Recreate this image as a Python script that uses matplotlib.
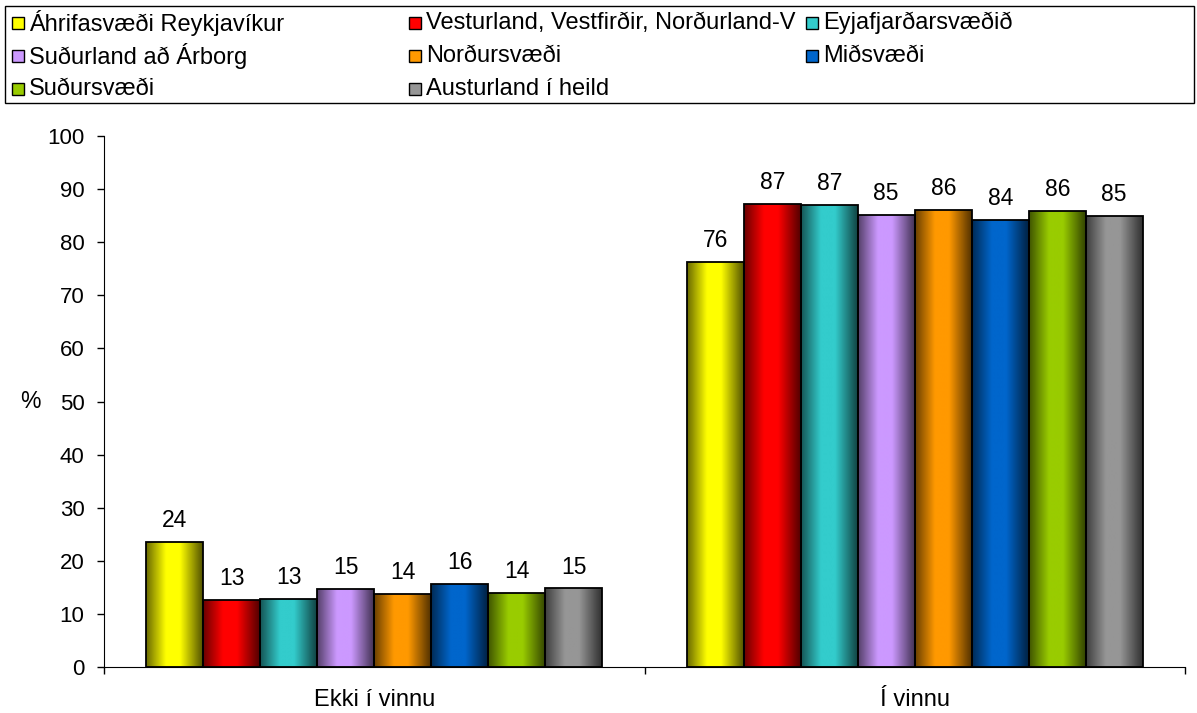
import numpy as np
import matplotlib
matplotlib.use('Agg')
import matplotlib.pyplot as plt
from matplotlib.patches import Rectangle

plt.rcParams['font.family'] = ['Liberation Sans', 'DejaVu Sans']

categories = ['Ekki í vinnu', 'Í vinnu']
regions = ['Áhrifasvæði Reykjavíkur', 'Vesturland, Vestfirðir, Norðurland-V', 'Eyjafjarðarsvæðið',
           'Suðurland að Árborg', 'Norðursvæði', 'Miðsvæði',
           'Suðursvæði', 'Austurland í heild']
colors = ['#FFFF00', '#FF0000', '#33CCCC', '#CC99FF', '#FF9900', '#0066CC', '#99CC00', '#969696']
ekki = [23.6, 12.7, 12.9, 14.7, 13.8, 15.6, 14.0, 14.8]
vinnu = [76.3, 87.2, 87.0, 85.1, 86.1, 84.2, 85.9, 85.0]
values = [ekki, vinnu]
yticks = list(range(0, 101, 10))

W, H = 1197, 713
fig = plt.figure(figsize=(W / 100, H / 100), dpi=100)
ax = fig.add_axes([104 / W, (H - 667) / H, 1081 / W, (667 - 136) / H])

n = len(regions)
group_w = 456 / 540.5
bw = group_w / n

# horizontal shading like the excel bars
t = np.linspace(0, 1, 64)
shade = np.interp(t, [0, 0.35, 0.6, 1], [0.42, 1, 1, 0.33])

for ci, vals in enumerate(values):
    for i, v in enumerate(vals):
        x0 = ci - group_w / 2 + i * bw
        rgb = np.array(matplotlib.colors.to_rgb(colors[i]))
        img = (shade[:, None] * rgb[None, :])[None, :, :]
        rect = Rectangle((x0, 0), bw, v, facecolor='none', edgecolor='black', lw=1.3, zorder=3)
        ax.add_patch(rect)
        im = ax.imshow(img, extent=[x0, x0 + bw, 0, v], aspect='auto', zorder=2, interpolation='bilinear')
        im.set_clip_path(rect)
        ax.annotate(f'{v:.0f}', (x0 + bw / 2, v), xytext=(0, 7), textcoords='offset points',
                    ha='center', va='bottom', fontsize=16.5)

ax.set_xlim(-0.5, 1.5)
ax.set_ylim(0, 100)
ax.set_yticks(yticks)
ax.tick_params(axis='y', direction='out', length=5, width=1, labelsize=16, pad=9)
ax.set_xticks([-0.5, 0.5, 1.5])
ax.set_xticklabels([])
ax.set_xticks([0, 1], minor=True)
ax.set_xticklabels(categories, minor=True, fontsize=17)
ax.tick_params(axis='x', which='major', direction='out', length=5, width=1)
ax.tick_params(axis='x', which='minor', length=0, pad=16)
for s in ['top', 'right']:
    ax.spines[s].set_visible(False)
ax.set_ylabel('%', rotation=0, fontsize=16.5, ha='center', va='center')
ax.yaxis.set_label_coords((30 - 104) / 1081, 0.5)

# legend drawn by hand: three equal columns, filled row by row
fig.patches.append(Rectangle((5 / W, 1 - 103 / H), 1189 / W, 97 / H, transform=fig.transFigure,
                             facecolor='white', edgecolor='black', lw=1))
col_x = [12, 409, 806]
row_y = [23, 56, 89]
for i, name in enumerate(regions):
    cx = col_x[i % 3]
    cy = row_y[i // 3]
    fig.patches.append(Rectangle((cx / W, 1 - (cy + 6) / H), 12 / W, 12 / H, transform=fig.transFigure,
                                 facecolor=colors[i], edgecolor='black', lw=1))
    fig.text((cx + 17) / W, 1 - cy / H, name, fontsize=17, va='center', ha='left')

fig.savefig('out.png', dpi=100)
